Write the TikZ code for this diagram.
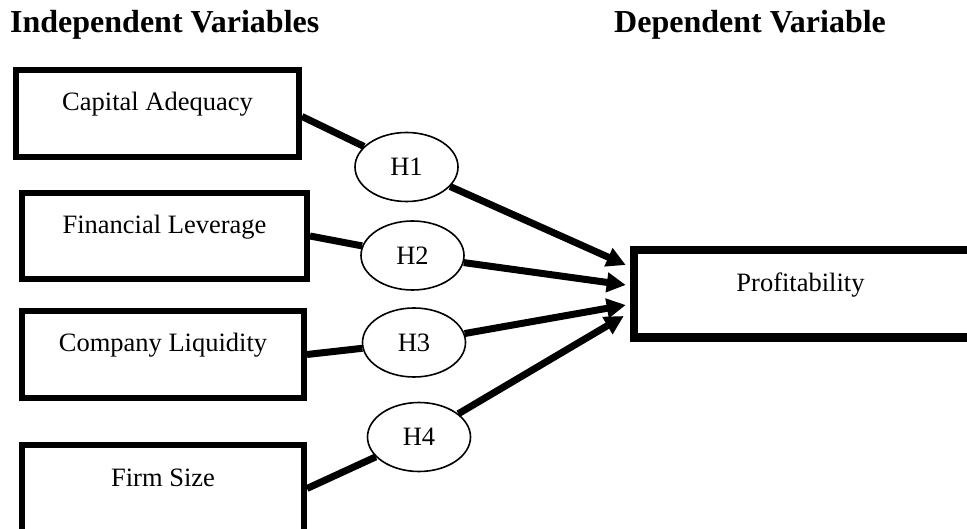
\documentclass[tikz,border=0pt]{standalone}
\usepackage{fontspec}
\setmainfont{Liberation Serif}
\usetikzlibrary{arrows.meta,shapes.geometric}
\begin{document}
\begin{tikzpicture}[x=1pt,y=-1pt,
  varbox/.style={draw,line width=6pt,rectangle,inner sep=0pt,minimum width=283pt,minimum height=87pt},
  depbox/.style={draw,line width=8.5pt,rectangle,inner sep=0pt,minimum width=341pt,minimum height=87.5pt},
  lbl/.style={inner sep=0pt,anchor=base,font=\fontsize{26.5}{30}\selectfont},
  head/.style={inner sep=0pt,anchor=base west,font=\fontsize{32}{36}\selectfont\bfseries},
  hyp/.style={draw,ellipse,line width=1.6pt,fill=white,inner sep=0pt,minimum width=103pt,minimum height=69pt,font=\fontsize{26.5}{30}\selectfont},
  link/.style={line width=7pt},
  arr/.style={line width=7pt,-{Triangle[length=19pt,width=19pt]}}]
\useasboundingbox (0,0) rectangle (967,529);
\clip (0,0) rectangle (967,529);

\node[head] (hi) at (10,33) {Independent Variables};
\node[head] (hd) at (614,33) {Dependent Variable};

\node[varbox] (c1) at (157.5,113.5) {};
\node[varbox,minimum width=285pt,minimum height=86pt] (c2) at (164.5,236) {};
\node[varbox,minimum width=282pt] (c3) at (163,354.5) {};
\node[varbox,minimum width=282pt] (c4) at (163,488.5) {};
\node[depbox] (prof) at (804.5,294) {};

\node[lbl] (c1t) at ([yshift=-44pt]c1.north) {Capital Adequacy};
\node[lbl] (c2t) at ([yshift=-44pt]c2.north) {Financial Leverage};
\node[lbl] (c3t) at ([yshift=-44pt]c3.north) {Company Liquidity};
\node[lbl] (c4t) at ([yshift=-44pt]c4.north) {Firm Size};
\node[lbl] (pt) at ([xshift=-4pt,yshift=-46pt]prof.north) {Profitability};

\node[hyp] (h1) at (406.5,167) {H1};
\node[hyp] (h2) at (412.5,255.5) {H2};
\node[hyp] (h3) at (414,342.5) {H3};
\node[hyp] (h4) at (419,437) {H4};

\coordinate (t1) at ([xshift=-4pt,yshift=29pt]prof.west);
\coordinate (t2) at ([xshift=-4pt,yshift=9pt]prof.west);
\coordinate (t3) at ([xshift=-4pt,yshift=-11pt]prof.west);
\coordinate (t4) at ([xshift=-6pt,yshift=-22pt]prof.west);

\draw[link] ([yshift=-3pt]c1.east) -- (h1);
\draw[link] (c2.east) -- (h2);
\draw[link] (c3.east) -- (h3);
\draw[link] (c4.east) -- (h4);
\draw[arr] (h1) -- (t1);
\draw[arr] (h2) -- (t2);
\draw[arr] (h3) -- (t3);
\draw[arr] (h4) -- (t4);
\end{tikzpicture}
\end{document}
